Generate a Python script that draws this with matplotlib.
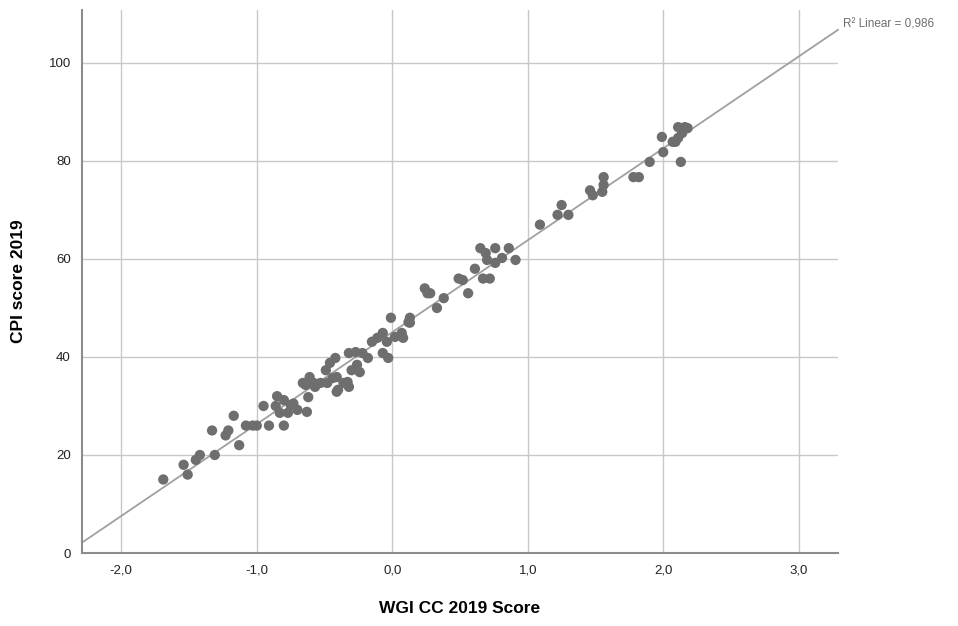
import numpy as np
import matplotlib
matplotlib.use("Agg")
import matplotlib.pyplot as plt

# WGI Control of Corruption score (x) vs CPI score (y), 2019
wgi_cc = [
    -1.69, -1.54, -1.51, -1.45, -1.42, -1.31, -1.13, -1.33, -1.23, -1.21,
    -1.17, -1.08, -1.03, -1.00, -0.91, -0.80, -0.95, -0.85, -0.86, -0.83,
    -0.77, -0.75, -0.70, -0.63, -0.62, -0.66, -0.58, -0.48, -0.41, -0.80,
    -0.73, -0.64, -0.61, -0.57, -0.53,
    -0.49, -0.46, -0.42, -0.44, -0.41, -0.40, -0.36, -0.33, -0.32, -0.30,
    -0.26, -0.24, -0.32, -0.27, -0.22, -0.18, -0.15, -0.11, -0.07, -0.04,
    -0.07, -0.03, 0.02, 0.07, 0.08, 0.12, 0.13, -0.01, 0.13,
    0.33, 0.38, 0.24, 0.26, 0.28, 0.49, 0.52, 0.56, 0.61, 0.67,
    0.72, 0.65, 0.69, 0.70, 0.76, 0.76, 0.81, 0.86, 0.91,
    1.09, 1.22, 1.25, 1.30, 1.46, 1.48, 1.55, 1.56, 1.56, 1.78,
    1.82, 1.90, 2.00, 1.99, 2.13, 2.07, 2.11, 2.16, 2.18, 2.09,
    2.11, 2.14,
]
cpi = [
    15, 18, 16, 19, 20, 20, 22, 25, 24, 25,
    28, 26, 26, 26, 26, 26, 30, 32, 30, 28.6,
    28.6, 30.2, 29.2, 28.8, 31.8, 34.7, 34.7, 34.7, 32.9, 31.2,
    30.5, 34.3, 35.9, 33.9, 34.7,
    37.3, 38.8, 39.8, 35.7, 35.9, 33.3, 34.7, 34.9, 33.9, 37.3,
    38.4, 36.9, 40.8, 41, 40.8, 39.8, 43.1, 43.9, 44.9, 43.1,
    40.8, 39.8, 44.1, 44.9, 43.9, 47.1, 48, 48, 47,
    50, 52, 54, 53, 53, 56, 55.7, 53, 58, 56,
    56, 62.2, 61.2, 59.8, 62.2, 59.2, 60.2, 62.2, 59.8,
    67, 69, 71, 69, 74, 73, 73.7, 75.1, 76.7, 76.7,
    76.7, 79.8, 81.8, 84.9, 79.8, 83.9, 86.9, 86.9, 86.7, 83.9,
    84.7, 85.7,
]

x_ticks = [-2.0, -1.0, 0.0, 1.0, 2.0, 3.0]
x_tick_labels = ["-2,0", "-1,0", "0,0", "1,0", "2,0", "3,0"]
y_ticks = [0, 20, 40, 60, 80, 100]
r2_label = "R² Linear = 0,986"

plt.rcParams['font.family'] = ['Liberation Sans', 'DejaVu Sans']

fig = plt.figure(figsize=(9.58, 6.26), dpi=100)
ax = fig.add_axes([82 / 958, 1 - 553 / 626, (838 - 82) / 958, (553 - 10) / 626])

x_min, x_max = -2.29, 3.29
ax.set_xlim(x_min, x_max)
ax.set_ylim(0, 110.8)

# grid
ax.set_xticks(x_ticks)
ax.set_xticklabels(x_tick_labels)
ax.set_yticks(y_ticks)
ax.grid(True, color='#c8c8c8', linewidth=1.0)
ax.set_axisbelow(True)
ax.tick_params(length=0, labelsize=9.5, colors='#222222', pad=8)

for side in ['top', 'right']:
    ax.spines[side].set_visible(False)
for side in ['left', 'bottom']:
    ax.spines[side].set_color('#8c8c8c')
    ax.spines[side].set_linewidth(1.5)

# linear fit
slope, intercept = np.polyfit(wgi_cc, cpi, 1)
fit_x = np.array([x_min, x_max])
ax.plot(fit_x, slope * fit_x + intercept, color='#a0a0a0', linewidth=1.3,
        zorder=2, clip_on=False)

ax.scatter(wgi_cc, cpi, s=55, color='#6e6e6e', edgecolors='none', zorder=3)

ax.text(1.006, slope * x_max + intercept + 1.0, r2_label,
        transform=ax.get_yaxis_transform(), fontsize=8.5, color='#6e6e6e',
        ha='left', va='center')

ax.set_xlabel('WGI CC 2019 Score', fontsize=12.5, fontweight='bold', labelpad=18)
ax.set_ylabel('CPI score 2019', fontsize=12.5, fontweight='bold', labelpad=16)

fig.savefig('out.png', dpi=100)
